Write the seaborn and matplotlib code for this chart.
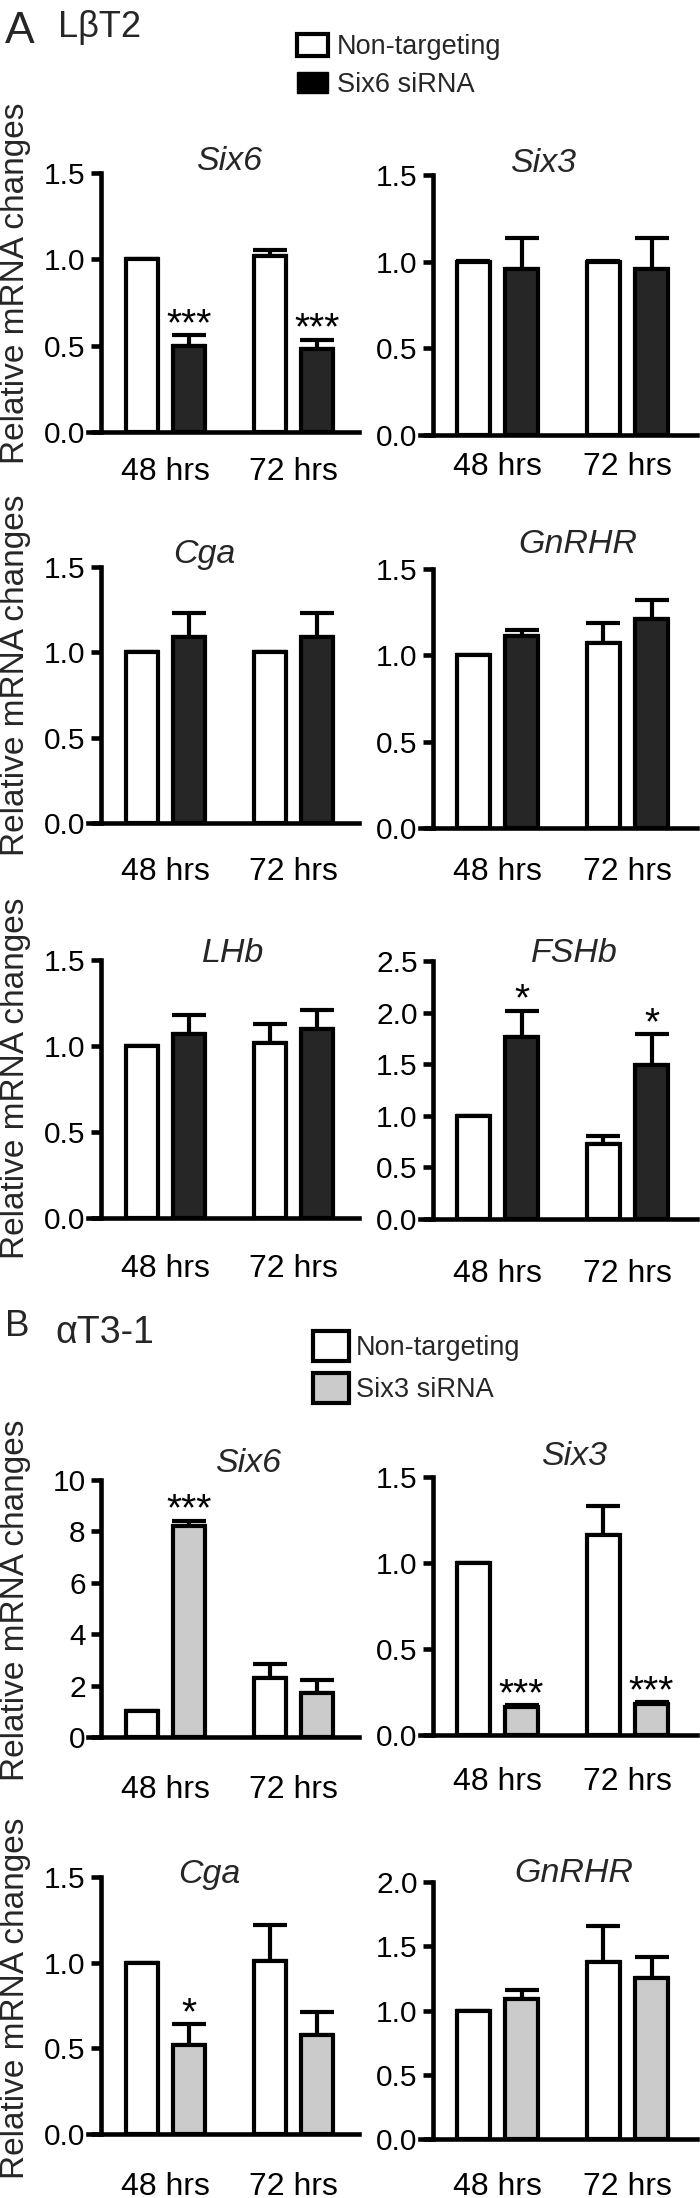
import numpy as np
import pandas as pd
import matplotlib
matplotlib.use("Agg")
import matplotlib.pyplot as plt
import seaborn as sns
from matplotlib.patches import Patch

# ---------------- data ----------------
TIMES = ["48 hrs", "72 hrs"]
GROUPS_A = ["Non-targeting", "Six6 siRNA"]
GROUPS_B = ["Non-targeting", "Six3 siRNA"]

# Panel A: LβT2 cells, Six6 knockdown
a_six6_nt = [1.00, 1.02]; a_six6_nt_err = [0.00, 0.035]
a_six6_si = [0.50, 0.48]; a_six6_si_err = [0.06, 0.055]
a_six3_nt = [1.00, 1.00]; a_six3_nt_err = [0.005, 0.005]
a_six3_si = [0.96, 0.96]; a_six3_si_err = [0.175, 0.175]
a_cga_nt = [1.00, 1.00]; a_cga_nt_err = [0.00, 0.00]
a_cga_si = [1.09, 1.09]; a_cga_si_err = [0.14, 0.14]
a_gnrhr_nt = [1.00, 1.07]; a_gnrhr_nt_err = [0.00, 0.12]
a_gnrhr_si = [1.11, 1.21]; a_gnrhr_si_err = [0.035, 0.11]
a_lhb_nt = [1.00, 1.02]; a_lhb_nt_err = [0.00, 0.11]
a_lhb_si = [1.07, 1.10]; a_lhb_si_err = [0.11, 0.11]
a_fshb_nt = [1.00, 0.73]; a_fshb_nt_err = [0.00, 0.07]
a_fshb_si = [1.76, 1.49]; a_fshb_si_err = [0.26, 0.30]

# Panel B: αT3-1 cells, Six3 knockdown
b_six6_nt = [1.00, 2.30]; b_six6_nt_err = [0.00, 0.55]
b_six6_si = [8.20, 1.70]; b_six6_si_err = [0.22, 0.52]
b_six3_nt = [1.00, 1.16]; b_six3_nt_err = [0.00, 0.17]
b_six3_si = [0.16, 0.18]; b_six3_si_err = [0.015, 0.012]
b_cga_nt = [1.00, 1.01]; b_cga_nt_err = [0.00, 0.21]
b_cga_si = [0.52, 0.58]; b_cga_si_err = [0.12, 0.13]
b_gnrhr_nt = [1.00, 1.38]; b_gnrhr_nt_err = [0.00, 0.28]
b_gnrhr_si = [1.09, 1.25]; b_gnrhr_si_err = [0.07, 0.17]

# significance marks above knockdown bars
a_six6_sig = ["***", "***"]
a_fshb_sig = ["*", "*"]
b_six6_sig = ["***", ""]
b_six3_sig = ["***", "***"]
b_cga_sig = ["*", ""]
no_sig = ["", ""]

# y tick values
TICKS_15 = [0.0, 0.5, 1.0, 1.5]
TICKS_25 = [0.0, 0.5, 1.0, 1.5, 2.0, 2.5]
TICKS_20 = [0.0, 0.5, 1.0, 1.5, 2.0]
TICKS_10 = [0, 2, 4, 6, 8, 10]

# ---------------- style ----------------
sns.set_theme(style="white")
plt.rcParams["font.family"] = ["Liberation Sans", "DejaVu Sans"]
plt.rcParams["axes.unicode_minus"] = False

W, H = 700, 2198
fig = plt.figure(figsize=(W / 100, H / 100), dpi=100)

DARK = "#262626"
GRAY = "#cbcbcb"
LW = 3.0

def rect(l, t, r, b):
    return [l / W, 1 - b / H, (r - l) / W, (b - t) / H]

# horizontal layout in px
COL = {
    "L": dict(l=88, r=359, spine=101, g0=165.5, g1=293.5),
    "R": dict(l=420, r=697, spine=433, g0=497.5, g1=627.5),
}

panels = [
    # row 1
    dict(col="L", t=173, b=432, title="Six6", tx=229, ty=170, xb=480,
         nt=a_six6_nt, nte=a_six6_nt_err, si=a_six6_si, sie=a_six6_si_err,
         sig=a_six6_sig, ticks=TICKS_15, fmt="{:.1f}", groups=GROUPS_A, col2=DARK),
    dict(col="R", t=175, b=435, title="Six3", tx=543, ty=172, xb=475,
         nt=a_six3_nt, nte=a_six3_nt_err, si=a_six3_si, sie=a_six3_si_err,
         sig=no_sig, ticks=TICKS_15, fmt="{:.1f}", groups=GROUPS_A, col2=DARK),
    # row 2
    dict(col="L", t=567, b=823, title="Cga", tx=204, ty=563, xb=880,
         nt=a_cga_nt, nte=a_cga_nt_err, si=a_cga_si, sie=a_cga_si_err,
         sig=no_sig, ticks=TICKS_15, fmt="{:.1f}", groups=GROUPS_A, col2=DARK),
    dict(col="R", t=569, b=828, title="GnRHR", tx=578, ty=553, xb=880,
         nt=a_gnrhr_nt, nte=a_gnrhr_nt_err, si=a_gnrhr_si, sie=a_gnrhr_si_err,
         sig=no_sig, ticks=TICKS_15, fmt="{:.1f}", groups=GROUPS_A, col2=DARK),
    # row 3
    dict(col="L", t=960, b=1218, title="LHb", tx=233, ty=962, xb=1277,
         nt=a_lhb_nt, nte=a_lhb_nt_err, si=a_lhb_si, sie=a_lhb_si_err,
         sig=no_sig, ticks=TICKS_15, fmt="{:.1f}", groups=GROUPS_A, col2=DARK),
    dict(col="R", t=961, b=1219, title="FSHb", tx=574, ty=962, xb=1282,
         nt=a_fshb_nt, nte=a_fshb_nt_err, si=a_fshb_si, sie=a_fshb_si_err,
         sig=a_fshb_sig, ticks=TICKS_25, fmt="{:.1f}", groups=GROUPS_A, col2=DARK),
    # row 4 (B)
    dict(col="L", t=1480, b=1737, title="Six6", tx=248, ty=1472, xb=1798,
         nt=b_six6_nt, nte=b_six6_nt_err, si=b_six6_si, sie=b_six6_si_err,
         sig=b_six6_sig, ticks=TICKS_10, fmt="{:d}", groups=GROUPS_B, col2=GRAY),
    dict(col="R", t=1477, b=1735, title="Six3", tx=574, ty=1465, xb=1790,
         nt=b_six3_nt, nte=b_six3_nt_err, si=b_six3_si, sie=b_six3_si_err,
         sig=b_six3_sig, ticks=TICKS_15, fmt="{:.1f}", groups=GROUPS_B, col2=GRAY),
    # row 5 (B)
    dict(col="L", t=1877, b=2134, title="Cga", tx=209, ty=1883, xb=2195,
         nt=b_cga_nt, nte=b_cga_nt_err, si=b_cga_si, sie=b_cga_si_err,
         sig=b_cga_sig, ticks=TICKS_15, fmt="{:.1f}", groups=GROUPS_B, col2=GRAY),
    dict(col="R", t=1882, b=2139, title="GnRHR", tx=574, ty=1882, xb=2195,
         nt=b_gnrhr_nt, nte=b_gnrhr_nt_err, si=b_gnrhr_si, sie=b_gnrhr_si_err,
         sig=no_sig, ticks=TICKS_20, fmt="{:.1f}", groups=GROUPS_B, col2=GRAY),
]

XTICK_FS = 23
YTICK_FS = 21.5
for p in panels:
    c = COL[p["col"]]
    ax = fig.add_axes(rect(c["l"], p["t"], c["r"], p["b"]))
    df = pd.DataFrame({
        "time": TIMES * 2,
        "group": [p["groups"][0]] * 2 + [p["groups"][1]] * 2,
        "value": list(p["nt"]) + list(p["si"]),
    })
    pal = {p["groups"][0]: "white", p["groups"][1]: p["col2"]}
    sns.barplot(data=df, x="time", y="value", hue="group", hue_order=p["groups"],
                order=TIMES, palette=pal, edgecolor="black", linewidth=LW,
                width=0.74, gap=0.33, errorbar=None, legend=False, ax=ax, zorder=2)
    bar_conts = list(ax.containers)[:2]
    for cont, errs, sigs in zip(bar_conts, [p["nte"], p["sie"]], [no_sig, p["sig"]]):
        for bar, e, s in zip(cont, errs, sigs):
            x = bar.get_x() + bar.get_width() / 2
            h = bar.get_height()
            ax.errorbar(x, h, yerr=[[0], [e]], fmt="none", ecolor="black",
                        elinewidth=LW, capsize=12, capthick=LW, zorder=1)
            if s:
                ax.annotate(s, (x, h + e), xytext=(0, 0), textcoords="offset points",
                            ha="center", va="baseline", fontsize=28, color="black")
    ppu = c["g1"] - c["g0"]
    ax.set_xlim((c["l"] - c["g0"]) / ppu, (c["r"] - c["g0"]) / ppu)
    ax.set_ylim(0, p["ticks"][-1])
    ax.spines["left"].set_position(("data", (c["spine"] - c["g0"]) / ppu))
    for side in ("top", "right"):
        ax.spines[side].set_visible(False)
    for side in ("left", "bottom"):
        ax.spines[side].set_linewidth(3.3)
        ax.spines[side].set_color("black")
    ax.set_yticks(p["ticks"])
    ax.set_yticklabels([p["fmt"].format(v) for v in p["ticks"]])
    ax.set_xticks([0, 1])
    ax.set_xticklabels(TIMES)
    em_px = XTICK_FS * 100 / 72
    pad_px = p["xb"] - 0.73 * em_px - p["b"]
    ax.tick_params(axis="x", length=0, pad=pad_px * 72 / 100, labelsize=XTICK_FS,
                   colors="black")
    ax.tick_params(axis="y", direction="out", length=7, width=3.3, pad=4,
                   labelsize=YTICK_FS, colors="black", left=True)
    ax.set_xlabel("")
    ax.set_ylabel("")
    ax.patch.set_alpha(0)
    fig.text(p["tx"] / W, 1 - p["ty"] / H, p["title"], ha="center", va="baseline",
             fontsize=24.5, style="italic")

# y-axis labels
for yc in [283, 675, 1078, 1600, 1998]:
    fig.text(16 / W, 1 - yc / H, "Relative mRNA changes", rotation=90,
             ha="center", va="center", fontsize=24)

# panel headers
fig.text(5 / W, 1 - 43 / H, "A", fontsize=32, va="baseline", ha="left")
fig.text(58 / W, 1 - 37 / H, "LβT2", fontsize=26, va="baseline", ha="left")
fig.text(5 / W, 1 - 1336 / H, "B", fontsize=26.5, va="baseline", ha="left")
fig.text(55 / W, 1 - 1343 / H, "αT3-1", fontsize=27, va="baseline", ha="left")

# legends
LEG_FS = 19.5
fs_px = LEG_FS * 100 / 72
hA = [Patch(facecolor="white", edgecolor="black", linewidth=3),
      Patch(facecolor="black", edgecolor="black", linewidth=1)]
fig.legend(hA, GROUPS_A, loc="upper left", bbox_to_anchor=(297 / W, 1 - 34 / H),
           frameon=False, fontsize=LEG_FS, handlelength=31 / fs_px,
           handleheight=23 / fs_px, handletextpad=0.33, labelspacing=0.43,
           borderpad=0, borderaxespad=0)
hB = [Patch(facecolor="white", edgecolor="black", linewidth=3),
      Patch(facecolor=GRAY, edgecolor="black", linewidth=3)]
fig.legend(hB, GROUPS_B, loc="upper left", bbox_to_anchor=(313 / W, 1 - 1331 / H),
           frameon=False, fontsize=LEG_FS, handlelength=36 / fs_px,
           handleheight=36 / fs_px, handletextpad=0.25, labelspacing=0.43,
           borderpad=0, borderaxespad=0)

fig.savefig("out.png", dpi=100)
